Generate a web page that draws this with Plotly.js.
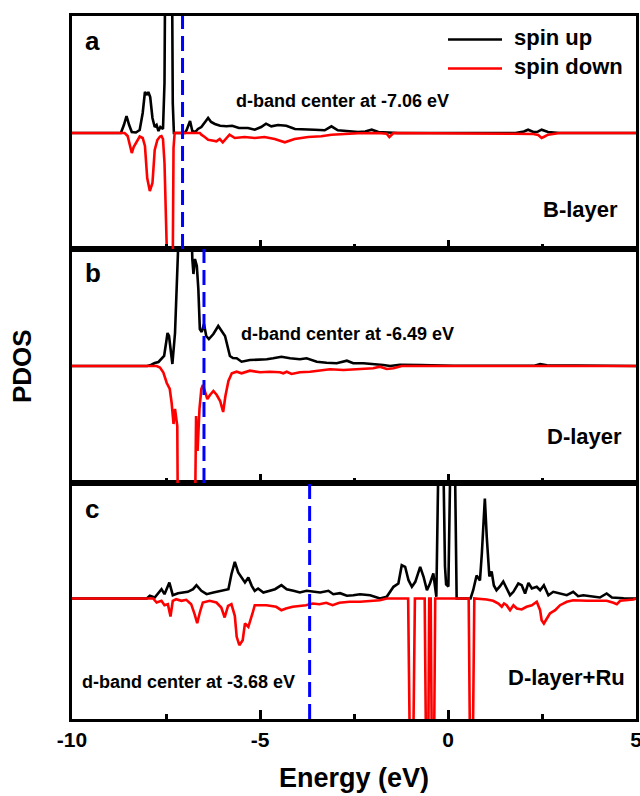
<!DOCTYPE html>
<html><head><meta charset="utf-8">
<script src="https://cdn.plot.ly/plotly-3.0.1.min.js"></script>
<style>html,body{margin:0;padding:0;background:#fff}#chart{width:640px;height:796px}</style>
</head><body><div id="chart"></div>
<script>
// ---------- data ----------
const energyTicks = [-10, -5, 0, 5];
const energyTickText = ['-10', '-5', '0', '5'];
const energyMinorTicks = [-7.5, -2.5, 2.5];
const dbandCenters = [-7.06, -6.49, -3.68];
const dbandLabels = ['d-band center at -7.06 eV', 'd-band center at -6.49 eV', 'd-band center at -3.68 eV'];
const panelNames = ['B-layer', 'D-layer', 'D-layer+Ru'];
const panelLetters = ['a', 'b', 'c'];
const seriesNames = ['spin up', 'spin down'];

// panel a (B-layer)
const aUpX = [-10, -8.7, -8.62, -8.55, -8.48, -8.41, -8.3, -8.2, -8.12, -8.06,
  -8.01, -7.97, -7.92, -7.86, -7.8, -7.75, -7.7, -7.65, -7.58, -7.54,
  -7.5, -7.36, -7.32, -7.29, -7.0, -6.95, -6.86, -6.8, -6.72, -6.65,
  -6.56, -6.5, -6.44, -6.38, -6.3, -6.2, -6.06, -5.89, -5.74, -5.56,
  -5.32, -5.14, -4.97, -4.84, -4.7, -4.52, -4.3, -4.07, -3.81, -3.55,
  -3.28, -3.1, -2.93, -2.66, -2.39, -2.2, -2.03, -1.85, -1.68, -1.33,
  1.8, 1.91, 2.02, 2.13, 2.27, 2.38, 2.49, 2.66, 2.97, 5];
const aUpY = [0, 0, 0.8, 1.7, 0.8, 0.1, 0.05, 0.3, 2.0, 4.1,
  3.8, 4.1, 3.6, 1.5, 0.6, 0.8, 0.2, 0.6, 0.4, 5,
  30, 30, 3, 0, 0, 0.3, 1.2, 0.2, 0.1, 0.4,
  0.6, 0.85, 1.2, 1.5, 1.1, 0.9, 0.73, 0.67, 0.73, 0.5,
  0.5, 0.33, 0.6, 0.93, 0.67, 0.8, 0.73, 0.4, 0.4, 0.33,
  0.27, 0.67, 0.27, 0.17, 0.1, 0.15, 0.33, 0.1, 0.07, 0,
  0, 0.1, 0.15, 0.33, 0.1, 0.12, 0.33, 0.1, 0, 0];
const aDownX = [-10, -8.6, -8.52, -8.45, -8.41, -8.36, -8.28, -8.2, -8.12, -8.06,
  -8.0, -7.93, -7.86, -7.8, -7.73, -7.66, -7.62, -7.58, -7.54, -7.5,
  -7.35, -7.3, -7.27, -6.6, -6.56, -6.47, -6.38, -6.27, -6.16, -6.07,
  -5.99, -5.81, -5.67, -5.41, -5.14, -4.88, -4.61, -4.34, -4.08, -3.72,
  -3.37, -3.1, -2.75, -2.39, -1.86, -1.63, -1.56, -1.45, 1.7, 2.27,
  2.4, 2.49, 2.57, 2.66, 2.97, 5];
const aDownY = [0, 0, -0.3, -1.3, -2.0, -1.4, -0.8, -0.35, -0.5, -1.3,
  -4.5, -5.8, -5.0, -1.7, -0.7, -0.35, -0.3, -0.6, -3, -30,
  -30, -1.5, 0, 0, -0.17, -0.4, -0.67, -0.75, -0.83, -0.6,
  -0.93, -0.17, -0.5, -0.4, -0.5, -0.4, -0.6, -0.93, -0.6, -0.4,
  -0.33, -0.17, -0.07, -0.03, 0, -0.07, -0.4, 0, -0.07, -0.1,
  -0.2, -0.5, -0.35, -0.17, 0, 0];

// panel b (D-layer)
const bUpX = [-10, -8.0, -7.9, -7.8, -7.7, -7.6, -7.55, -7.49, -7.46, -7.42,
  -7.37, -7.33, -7.26, -7.2, -7.15, -7.0, -6.9, -6.83, -6.8, -6.77,
  -6.73, -6.68, -6.64, -6.6, -6.55, -6.49, -6.43, -6.36, -6.24, -6.11,
  -6.03, -5.93, -5.8, -5.72, -5.62, -5.49, -5.27, -5.0, -4.82, -4.65,
  -4.43, -4.2, -3.94, -3.76, -3.49, -3.23, -2.96, -2.69, -2.52, -2.25,
  -1.99, -1.72, -1.54, -1.28, -0.74, 0.15, 2.3, 2.45, 2.63, 5];
const bUpY = [0, 0, 0.1, 0.3, 0.4, 0.8, 1.0, 2.5, 3.3, 3.0,
  1.0, 0.2, 3.3, 15, 28, 30, 25, 14, 10.7, 9.2,
  10.7, 10.0, 7.7, 3.7, 3.4, 4.2, 3.0, 2.7, 3.2, 4.0,
  3.5, 3.0, 1.0, 0.8, 0.77, 0.43, 0.6, 0.6, 0.67, 0.77,
  0.93, 0.77, 0.67, 0.77, 0.43, 0.33, 0.27, 0.53, 0.27, 0.27,
  0.2, 0.1, 0, 0.13, 0.1, 0.03, 0.03, 0.2, 0.07, 0];
const bDownX = [-10, -7.75, -7.66, -7.57, -7.48, -7.4, -7.35, -7.3, -7.26, -7.2,
  -7.16, -6.77, -6.7, -6.66, -6.61, -6.56, -6.52, -6.47, -6.4, -6.33,
  -6.24, -6.15, -6.06, -5.98, -5.92, -5.84, -5.75, -5.62, -5.49, -5.27,
  -5.0, -4.74, -4.47, -4.38, -4.29, -4.16, -3.94, -3.67, -3.4, -3.14,
  -2.78, -2.52, -2.25, -1.99, -1.81, -1.63, -1.45, -1.23, 5];
const bDownY = [0, 0, -0.15, -0.65, -1.7, -2.3, -3.7, -5.8, -4.3, -6.0,
  -30, -30, -5.0, -8.5, -4.3, -2.3, -1.9, -2.6, -3.3, -2.9,
  -2.5, -2.9, -3.5, -4.6, -3.0, -1.5, -0.73, -0.57, -0.73, -0.47,
  -0.63, -0.57, -0.63, -0.73, -0.57, -0.8, -0.63, -0.57, -0.47, -0.33,
  -0.4, -0.33, -0.23, -0.23, -0.07, -0.3, -0.23, 0, 0];

// panel c (D-layer+Ru)
const cUpX = [-10, -8.01, -7.93, -7.8, -7.62, -7.54, -7.41, -7.32, -7.18, -7.05,
  -6.92, -6.78, -6.69, -6.56, -6.42, -6.24, -6.06, -5.84, -5.76, -5.67,
  -5.58, -5.49, -5.4, -5.31, -5.22, -5.14, -5.05, -4.91, -4.73, -4.6,
  -4.43, -4.29, -4.11, -3.94, -3.76, -3.58, -3.4, -3.18, -3.05, -2.87,
  -2.69, -2.52, -2.34, -2.07, -1.81, -1.63, -1.45, -1.32, -1.23, -1.14,
  -1.05, -0.96, -0.87, -0.74, -0.65, -0.56, -0.48, -0.39, -0.31, -0.19,
  -0.08, -0.05, 0.01, 0.13, 0.23, 0.6, 0.67, 0.76, 0.85, 0.9,
  0.98, 1.03, 1.1, 1.16, 1.22, 1.29, 1.38, 1.47, 1.56, 1.65,
  1.74, 1.87, 1.96, 2.05, 2.14, 2.23, 2.36, 2.45, 2.55, 2.67,
  2.8, 2.98, 3.16, 3.33, 3.46, 3.6, 3.86, 4.04, 4.22, 4.36,
  4.67, 5];
const cUpY = [0, 0, 0.27, 0.1, 0.93, 0.43, 1.6, 0.33, 0.53, 0.6,
  0.67, 0.93, 1.33, 0.77, 0.43, 0.6, 0.77, 0.93, 2.43, 3.67,
  2.6, 2.1, 1.6, 2.1, 1.27, 0.77, 1.0, 0.6, 0.77, 0.93,
  1.33, 0.93, 0.77, 0.6, 0.77, 0.67, 0.6, 0.77, 0.43, 0.53,
  0.27, 0.33, 0.43, 0.33, 0, 0.17, 1.17, 1.5, 3.33, 3.17,
  1.83, 1.17, 1.67, 3.17, 2.17, 0.83, 1.5, 2.5, 0.17, 30,
  3.2, 1.4, 1.2, 30, 0, 0, 0.83, 2.3, 1.8, 4.5,
  10.0, 6.2, 2.2, 2.7, 1.3, 0.83, 1.2, 1.7, 1.0, 0.33,
  0.67, 1.5, 1.33, 0.5, 1.57, 1.0, 1.17, 0.83, 1.33, 0.33,
  0.67, 0.5, 0.33, 0.67, 0.23, 0.33, 0.17, 0.1, 0.5, 0.1,
  0.03, 0];
const cDownX = [-10, -7.84, -7.75, -7.62, -7.54, -7.45, -7.38, -7.32, -7.23, -7.09,
  -6.96, -6.83, -6.74, -6.67, -6.6, -6.52, -6.34, -6.16, -6.03, -5.94,
  -5.85, -5.76, -5.67, -5.62, -5.55, -5.46, -5.4, -5.31, -5.2, -5.14,
  -4.83, -4.57, -4.43, -4.31, -4.13, -3.95, -3.78, -3.6, -3.42, -3.24,
  -3.07, -2.89, -2.62, -2.34, -2.07, -1.81, -1.63, -1.06, -0.97, -0.88,
  -0.62, -0.55, -0.5, -0.46, -0.4, -0.34, 0.55, 0.62, 0.7, 1.03,
  1.2, 1.34, 1.43, 1.49, 1.56, 1.65, 1.74, 1.83, 1.96, 2.09,
  2.23, 2.36, 2.45, 2.49, 2.55, 2.62, 2.71, 2.85, 2.98, 3.16,
  3.33, 3.69, 4.04, 4.22, 4.4, 4.49, 4.58, 4.76, 4.93, 5];
const cDownY = [0, 0, -0.4, -0.23, -0.67, -0.57, -1.8, -0.23, -0.07, -0.23,
  -0.13, -0.57, -1.57, -2.47, -1.4, -0.4, -0.23, -0.4, -0.9, -1.9,
  -0.73, -0.57, -1.73, -3.83, -4.67, -4.17, -2.5, -2.83, -1.5, -0.67,
  -0.67, -0.83, -1.17, -1.0, -0.83, -0.77, -0.67, -0.5, -0.57, -0.43,
  -0.67, -0.43, -0.33, -0.33, -0.23, -0.17, 0, 0, -30, 0,
  0, -30, 0, 0, -30, 0, 0, -30, 0, -0.1,
  -0.23, -0.5, -0.83, -0.5, -0.67, -1.17, -0.67, -1.0, -1.1, -0.83,
  -0.67, -0.33, -1.17, -2.17, -2.5, -2.0, -1.5, -1.17, -0.67, -0.33,
  -0.17, -0.23, -0.23, -0.23, -0.43, -0.57, -0.23, -0.17, -0.1, 0];

// ---------- layout helpers ----------
const FONT = 'Liberation Sans, Arial, Helvetica, sans-serif';
const W = 640, H = 796;
const L = 72, R = 636, T = 16, B = 719;
const px2x = p => (p - L) / (R - L);
const py2y = p => (B - p) / (B - T);
const UP = '#000000', DOWN = '#ff0000', CENTER = '#0000ff';

const panels = [
  {xa: 'x3', ya: 'y3', up: [aUpX, aUpY], down: [aDownX, aDownY]},
  {xa: 'x2', ya: 'y2', up: [bUpX, bUpY], down: [bDownX, bDownY]},
  {xa: 'x', ya: 'y', up: [cUpX, cUpY], down: [cDownX, cDownY]}
];

const traces = [];
panels.forEach(p => {
  traces.push({x: p.up[0], y: p.up[1], xaxis: p.xa, yaxis: p.ya, type: 'scatter', mode: 'lines',
    name: seriesNames[0], line: {color: UP, width: 2.6}, showlegend: false, hoverinfo: 'skip'});
  traces.push({x: p.down[0], y: p.down[1], xaxis: p.xa, yaxis: p.ya, type: 'scatter', mode: 'lines',
    name: seriesNames[1], line: {color: DOWN, width: 2.6}, showlegend: false, hoverinfo: 'skip'});
});

function xAxis(anchor, labels) {
  return {
    anchor: anchor, range: [-10, 5], showgrid: false, zeroline: false,
    showline: true, linecolor: '#000', linewidth: 3, mirror: true,
    tickmode: 'array', tickvals: energyTicks, ticktext: energyTickText,
    ticks: 'inside', ticklen: 9, tickwidth: 3, tickcolor: '#000',
    showticklabels: labels, ticklabeloverflow: 'allow',
    tickfont: {family: FONT, size: 21, color: '#000', weight: 'bold'},
    minor: {tickmode: 'array', tickvals: energyMinorTicks, ticks: 'inside', ticklen: 5, tickwidth: 3, tickcolor: '#000', showgrid: false}
  };
}
function yAxis(domain, range) {
  return {
    domain: domain, range: range, showgrid: false, zeroline: false,
    showline: true, linecolor: '#000', linewidth: 3, mirror: true,
    ticks: '', showticklabels: false
  };
}

const dA = py2y(249), dB = py2y(483);
const layout = {
  width: W, height: H,
  margin: {l: L, r: W - R, t: T, b: H - B, pad: 0},
  paper_bgcolor: '#fff', plot_bgcolor: '#fff',
  showlegend: false,
  font: {family: FONT, color: '#000'},
  xaxis: Object.assign(xAxis('y', true), {
    title: {text: 'Energy (eV)', font: {family: FONT, size: 27, color: '#000', weight: 'bold'}, standoff: 18}
  }),
  xaxis2: Object.assign(xAxis('y2', false), {matches: 'x'}),
  xaxis3: Object.assign(xAxis('y3', false), {matches: 'x'}),
  yaxis: yAxis([0, dB], [-12.05, 11.55]),
  yaxis2: yAxis([dB, dA], [-11.7, 11.7]),
  yaxis3: yAxis([dA, 1], [-11.6, 11.7]),
  shapes: [],
  annotations: []
};

// d-band centre dashed lines
['x3', 'x2', 'x'].forEach((xa, i) => {
  const ya = ['y3', 'y2', 'y'][i];
  layout.shapes.push({type: 'line', xref: xa, yref: ya + ' domain', x0: dbandCenters[i], x1: dbandCenters[i], y0: 0, y1: 1,
    line: {color: CENTER, width: 3, dash: '15px,7px'}});
});

// legend (drawn manually for exact swatch length)
layout.shapes.push({type: 'line', xref: 'paper', yref: 'paper', x0: px2x(448), x1: px2x(502), y0: py2y(39.5), y1: py2y(39.5), line: {color: UP, width: 2.6}});
layout.shapes.push({type: 'line', xref: 'paper', yref: 'paper', x0: px2x(448), x1: px2x(502), y0: py2y(68.5), y1: py2y(68.5), line: {color: DOWN, width: 2.6}});

function ann(text, xp, yp, size, xanchor, extra) {
  return Object.assign({text: text, xref: 'paper', yref: 'paper', x: px2x(xp), y: py2y(yp),
    xanchor: xanchor, yanchor: 'middle', showarrow: false,
    font: {family: FONT, size: size, color: '#000', weight: 'bold'}}, extra || {});
}
layout.annotations.push(ann(seriesNames[0], 512, 37.5, 22, 'left'));
layout.annotations.push(ann(seriesNames[1], 512, 66.5, 22, 'left'));

const letterY = [41, 273, 509];
const dbandPos = [[234, 100.5], [239, 333.5], [80, 681.5]];
const nameAnchor = [[620, 209.5], [624, 436.5], [627, 677]];
for (let i = 0; i < 3; i++) {
  layout.annotations.push(ann(panelLetters[i], 83, letterY[i], 26, 'left'));
  layout.annotations.push(ann(dbandLabels[i], dbandPos[i][0], dbandPos[i][1], 18, 'left'));
  layout.annotations.push(ann(panelNames[i], nameAnchor[i][0], nameAnchor[i][1], 22, 'right'));
}
layout.annotations.push(ann('PDOS', 22, 366, 26, 'center', {textangle: -90}));

Plotly.newPlot('chart', traces, layout, {staticPlot: true, displayModeBar: false});
</script>
</body></html>
